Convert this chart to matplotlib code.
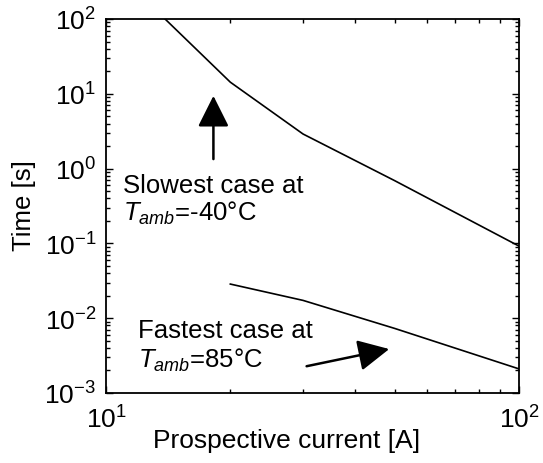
import matplotlib
matplotlib.use("Agg")
import matplotlib.pyplot as plt
from matplotlib.ticker import LogLocator, NullFormatter

plt.rcParams['font.family'] = ['Liberation Sans', 'DejaVu Sans']
plt.rcParams['mathtext.fontset'] = 'custom'
plt.rcParams['mathtext.rm'] = 'Liberation Sans'
plt.rcParams['mathtext.it'] = 'Liberation Sans:italic'
plt.rcParams['mathtext.bf'] = 'Liberation Sans:bold'

# Data
slow_current = [13.9, 20, 30, 50, 100]
slow_time = [100, 14.3, 2.9, 0.69, 0.092]
fast_current = [20, 30, 50, 100]
fast_time = [0.0286, 0.0173, 0.0073, 0.0021]

x_ticks = [10, 100]
x_ticklabels = [r'$10^{1}$', r'$10^{2}$']
y_ticks = [1e-3, 1e-2, 1e-1, 1e0, 1e1, 1e2]
y_ticklabels = [r'$10^{-3}$', r'$10^{-2}$', r'$10^{-1}$', r'$10^{0}$', r'$10^{1}$', r'$10^{2}$']

fig = plt.figure(figsize=(5.43, 4.64), dpi=100)
ax = fig.add_axes([106/543, 1-394/464, 413/543, 374/464])

ax.plot(slow_current, slow_time, color='black', lw=1.2)
ax.plot(fast_current, fast_time, color='black', lw=1.2)

ax.set_xscale('log')
ax.set_yscale('log')
ax.set_xlim(10, 100)
ax.set_ylim(1e-3, 1e2)

ax.set_xticks(x_ticks)
ax.set_xticklabels(x_ticklabels)
ax.set_yticks(y_ticks)
ax.set_yticklabels(y_ticklabels)
ax.xaxis.set_minor_locator(LogLocator(base=10, subs=range(2, 10)))
ax.yaxis.set_minor_locator(LogLocator(base=10, subs=range(2, 10), numticks=20))
ax.xaxis.set_minor_formatter(NullFormatter())
ax.yaxis.set_minor_formatter(NullFormatter())

ax.tick_params(which='both', direction='in', top=True, right=True, width=1.0)
ax.tick_params(which='major', length=5)
ax.tick_params(which='minor', length=3)
ax.tick_params(axis='x', which='major', labelsize=19, pad=9)
ax.tick_params(axis='y', which='major', labelsize=19, pad=7)
for s in ax.spines.values():
    s.set_linewidth(1.3)

ax.set_xlabel('Prospective current [A]', fontsize=19, va='top')
ax.xaxis.set_label_coords(0.438, -0.093)
ax.set_ylabel('Time [s]', fontsize=18.5, va='center')
ax.yaxis.set_label_coords(-0.199, 0.505)

# Annotations
fs = 18.5
ax.text(0.040, 0.537, 'Slowest case at', transform=ax.transAxes, fontsize=fs, va='baseline', ha='left')
ax.text(0.040, 0.463, r'$T_{amb}$=-40°C', transform=ax.transAxes, fontsize=fs, va='baseline', ha='left')
ax.text(0.0775, 0.150, 'Fastest case at', transform=ax.transAxes, fontsize=fs, va='baseline', ha='left')
ax.text(0.0775, 0.0695, r'$T_{amb}$=85°C', transform=ax.transAxes, fontsize=fs, va='baseline', ha='left')

arrow_kw = dict(arrowstyle='-|>,head_width=0.6,head_length=1.2', color='black', lw=1.8,
                shrinkA=0, shrinkB=0, mutation_scale=16)
ax.annotate('', xy=(18.2, 9.4), xytext=(18.2, 1.34), arrowprops=arrow_kw)
ax.annotate('', xy=(48.5, 0.00387), xytext=(30.6, 0.00228), arrowprops=arrow_kw)

fig.savefig('out.png', dpi=100)
